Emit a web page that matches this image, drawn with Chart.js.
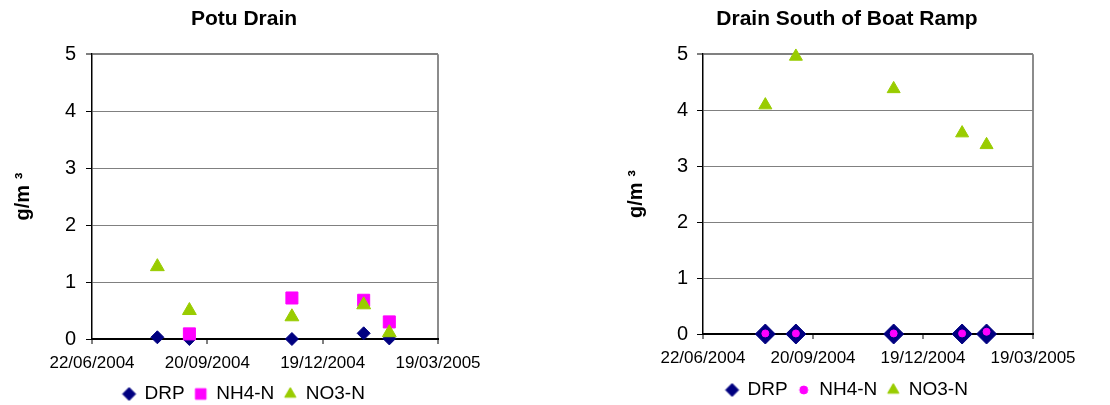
<!DOCTYPE html>
<html>
<head>
<meta charset="utf-8">
<script src="https://cdn.jsdelivr.net/npm/chart.js@4"></script>
<style>
html, body { margin: 0; padding: 0; background: #fff; overflow: hidden; width: 1110px; height: 405px; }
.box { position: absolute; top: 0; width: 555px; height: 420px; }
</style>
</head>
<body>
<div class="box" style="left:0"><canvas id="potu" width="555" height="420"></canvas></div>
<div class="box" style="left:555px"><canvas id="boat" width="555" height="420"></canvas></div>
<script>
// sample dates (same for both drains)
const sampleDates = ['2004-08-12', '2004-09-06', '2004-11-25', '2005-01-20', '2005-02-09'];
const seriesNames = ['DRP', 'NH4-N', 'NO3-N'];
const tickDates = ['22/06/2004', '20/09/2004', '19/12/2004', '19/03/2005'];
const yTicks = [0, 1, 2, 3, 4, 5];

// Potu Drain, g/m3
const potuDRP = [0.03, 0.0, 0.0, 0.10, 0.01];
const potuNH4 = [null, 0.09, 0.72, 0.68, 0.30];
const potuNO3 = [1.27, 0.50, 0.39, 0.60, 0.11];

// Drain South of Boat Ramp, g/m3
const boatDRP = [0.0, 0.0, 0.0, 0.0, 0.0];
const boatNH4 = [0.01, 0.01, 0.01, 0.01, 0.04];
const boatNO3 = [4.09, 4.96, 4.38, 3.59, 3.38];

const startDay = Date.UTC(2004, 5, 22);
function dayNum(s) {
    const p = s.split('-');
    return (Date.UTC(+p[0], +p[1] - 1, +p[2]) - startDay) / 86400000;
}
function pts(vals) {
    return sampleDates.map((d, i) => ({ x: dayNum(d), y: vals[i] }));
}

const FONT = "'Liberation Sans', Arial, sans-serif";
Chart.defaults.color = '#000';
Chart.defaults.font.family = FONT;

const navy = '#000080', pink = '#FF00FF', green = '#99CC00';

// small canvas used as a legend marker so each can have its own size
function marker(style, r, color) {
    const c = document.createElement('canvas');
    c.width = c.height = Math.ceil(r * 2 + 4);
    const ctx = c.getContext('2d');
    ctx.fillStyle = color;
    ctx.strokeStyle = color;
    ctx.lineWidth = 1;
    Chart.helpers.drawPoint(ctx, { pointStyle: style, radius: r, borderWidth: 1 }, c.width / 2, c.height / 2);
    return c;
}

function makeChart(id, title, drp, nh4, no3, st) {
    // later series drawn first so NO3 sits on top, legend reversed back
    const datasets = [
        { label: seriesNames[2], data: pts(no3), pointStyle: 'triangle', pointRadius: st.triR, backgroundColor: green, borderColor: green, borderWidth: 1, clip: false },
        { label: seriesNames[1], data: pts(nh4), pointStyle: st.nhStyle, pointRadius: st.nhR, backgroundColor: pink, borderColor: pink, borderWidth: 1, clip: false },
        { label: seriesNames[0], data: pts(drp), pointStyle: 'rectRot', pointRadius: st.drpR, backgroundColor: navy, borderColor: navy, borderWidth: 1, clip: false }
    ];
    const legendMarks = [
        marker('triangle', 6.5, green),
        marker(st.nhStyle, st.nhLeg, pink),
        marker('rectRot', 6.5, navy)
    ];
    return new Chart(document.getElementById(id), {
        type: 'scatter',
        data: { datasets: datasets },
        options: {
            responsive: false,
            animation: false,
            devicePixelRatio: 1,
            layout: { padding: { left: st.padL, right: st.padR, top: 0, bottom: st.padB } },
            plugins: {
                tooltip: { enabled: false },
                title: {
                    display: true,
                    text: title,
                    font: { size: 21, weight: 'bold' },
                    padding: { top: 7, bottom: 22 }
                },
                legend: {
                    position: 'bottom',
                    reverse: true,
                    labels: {
                        usePointStyle: true,
                        boxWidth: 12,
                        boxHeight: 9,
                        padding: 10,
                        font: { size: 19 },
                        generateLabels: chart => Chart.defaults.plugins.legend.labels.generateLabels(chart)
                            .map(l => Object.assign(l, { pointStyle: legendMarks[l.datasetIndex] }))
                    }
                }
            },
            scales: {
                x: {
                    type: 'linear',
                    min: 0,
                    max: 270,
                    afterBuildTicks: s => { s.ticks = tickDates.map((t, i) => ({ value: i * 90 })); },
                    afterFit: s => { s.height = st.xH; },
                    ticks: {
                        callback: (v, i) => tickDates[i],
                        font: { size: 17 },
                        padding: 9,
                        maxRotation: 0,
                        autoSkip: false
                    },
                    grid: {
                        drawOnChartArea: true,
                        color: c => c.index === 3 ? '#8c8c8c' : 'rgba(0,0,0,0)',
                        lineWidth: 2,
                        tickColor: '#000',
                        tickLength: 5,
                        tickWidth: 1
                    },
                    border: { color: '#000', width: 2 }
                },
                y: {
                    min: 0,
                    max: 5,
                    afterBuildTicks: s => { s.ticks = yTicks.map(v => ({ value: v })); },
                    afterFit: s => { s.width = 92; },
                    ticks: { font: { size: 20 }, padding: st.yPad },
                    title: {
                        display: true,
                        text: 'g/m ³',
                        font: { size: 20, weight: 'bold' },
                        padding: { top: st.tPad, bottom: 0 }
                    },
                    grid: {
                        color: c => c.index === 0 ? '#000' : '#808080',
                        lineWidth: c => c.index === 5 ? 2 : 1,
                        tickColor: '#000',
                        tickLength: 6,
                        tickWidth: 1
                    },
                    border: { color: '#000', width: 1.5 }
                },
                y2: {
                    position: 'right',
                    afterFit: s => { s.width = 50; },
                    ticks: { display: false },
                    grid: { display: false },
                    border: { display: false }
                }
            }
        }
    });
}

makeChart('potu', 'Potu Drain', potuDRP, potuNH4, potuNO3,
    { padL: 0, padR: 67, padB: 6.5, xH: 35.5, yPad: 10, tPad: 11, triR: 8, nhStyle: 'rect', nhR: 8.5, nhLeg: 7.5, drpR: 6.5 });
makeChart('boat', 'Drain South of Boat Ramp', boatDRP, boatNH4, boatNO3,
    { padL: 56, padR: 27, padB: 10.5, xH: 36.5, yPad: 9, tPad: 13, triR: 7.5, nhStyle: 'circle', nhR: 3.5, nhLeg: 4, drpR: 10 });
</script>
</body>
</html>
